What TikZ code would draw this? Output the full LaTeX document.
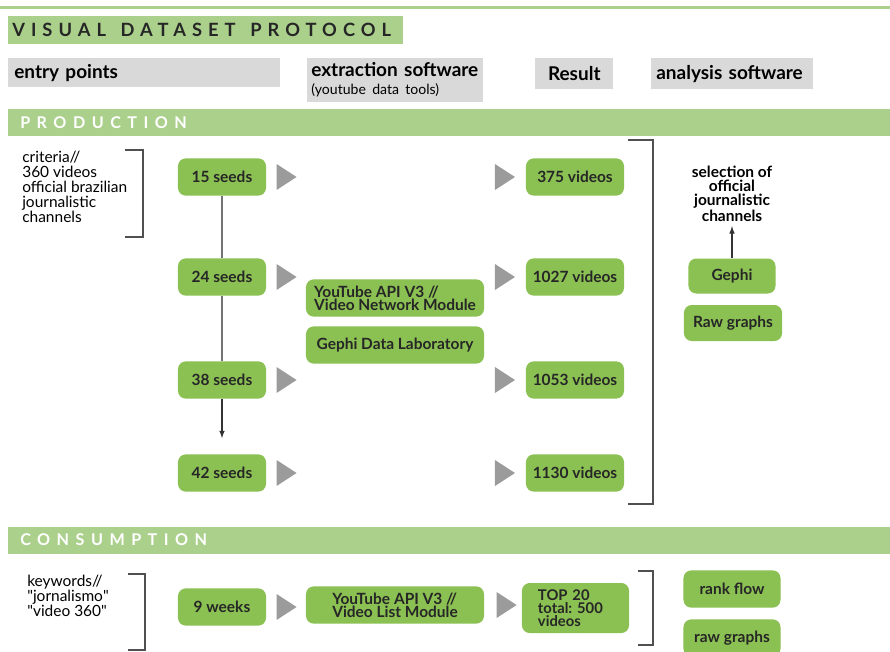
\documentclass[tikz,border=0pt]{standalone}
\usepackage{fontspec}
\setmainfont{Lato}
\usetikzlibrary{positioning,shapes.geometric}
\definecolor{bargreen}{RGB}{170,208,140}
\definecolor{nodegreen}{RGB}{139,192,83}
\definecolor{headgray}{RGB}{217,217,217}
\definecolor{trigray}{RGB}{155,155,155}
\definecolor{linegray}{RGB}{80,80,80}
\frenchspacing
\begin{document}
\begin{tikzpicture}[x=0.025cm,y=-0.025cm]
\tikzstyle{main}=[rectangle, rounded corners=5.5pt, fill=nodegreen, text=black!85, minimum width=2.2cm, minimum height=0.93cm, inner sep=2pt, font=\fontsize{11}{9.5}\selectfont\bfseries]
\tikzstyle{result}=[main, minimum width=2.45cm]
\tikzstyle{tool}=[main, minimum width=4.45cm, align=left]
\tikzstyle{tri}=[isosceles triangle, isosceles triangle stretches, fill=trigray, minimum height=0.5cm, minimum width=0.65cm, inner sep=0pt]
\tikzstyle{head}=[rectangle, fill=headgray, anchor=north west, inner xsep=0.15cm, inner ysep=3pt, align=left, font=\fontsize{13.5}{14}\selectfont\bfseries]
\tikzstyle{bar}=[rectangle, fill=bargreen, anchor=west, inner xsep=0.3cm, inner ysep=0pt, minimum height=0.675cm, align=left, font=\fontsize{11.5}{13}\selectfont\bfseries\addfontfeature{LetterSpace=40}]
\tikzstyle{note}=[anchor=north west, align=left, inner sep=0pt, font=\fontsize{11}{10.7}\selectfont]
\tikzstyle{connect}=[-latex, draw=black!80, thick]
\tikzstyle{bracket}=[draw=linegray, line width=1pt]
\useasboundingbox (0,0) rectangle (890,652);
\fill[bargreen] (0,6) rectangle (890,9);

  % headers
  \node[bar, text width=9.675cm, inner xsep=0.1cm, minimum height=0.7cm, text=black!85, font=\fontsize{13}{14}\selectfont\bfseries\addfontfeature{LetterSpace=33}] (title) at (8,30) {VISUAL\hspace{0.8em}DATASET\hspace{0.8em}PROTOCOL};
  \node[head, text width=6.5cm, minimum height=0.725cm] (hentry) at (8,58) {entry points};
  \node[head, text width=4.2cm, inner xsep=0.1cm, minimum height=1.075cm] (hextract) at (307,58) {extraction software\\[-1pt]{\fontsize{10}{10}\selectfont\mdseries (youtube data tools)}};
  \node[head, text width=1.65cm, align=center, minimum height=0.775cm] (hresult) at (535,58) {Result};
  \node[head, text width=3.8cm, inner xsep=0.125cm, minimum height=0.775cm] (hanalysis) at (651,58) {analysis software};

  % production
  \node[bar, text width=21.45cm, text=white] (prod) at (8,122.5) {PRODUCTION};
  \node[note] (criteria) at (22,151) {criteria//\\360 videos\\official brazilian\\journalistic\\channels};
  \draw[bracket] (125,150) -- (143,150) -- (143,237) -- (125,237);

  \node[main] (s15) at (222,177) {15 seeds};
  \node[main] (s24) at (222,277) {24 seeds};
  \node[main] (s38) at (222,380) {38 seeds};
  \node[main] (s42) at (222,473) {42 seeds};
  \foreach \n in {15,24,38,42} {
    \node[tri, right=0.25cm of s\n] (ta\n) {};
  }

  \node[tool] (ytnet) at (395,298) {YouTube API V3 //\\Video Network Module};
  \node[tool] (gephidl) at (395,345) {Gephi Data Laboratory};

  \node[result] (r15) at (575,177) {375 videos};
  \node[result] (r24) at (575,277) {1027 videos};
  \node[result] (r38) at (575,380) {1053 videos};
  \node[result] (r42) at (575,473) {1130 videos};
  \foreach \n in {15,24,38,42} {
    \node[tri, left=0.25cm of r\n] (tb\n) {};
  }
  \draw[bracket] (628,140) -- (653,140) -- (653,504) -- (628,504);

  \node[align=center, inner sep=0pt, font=\fontsize{11}{10}\selectfont\bfseries] (selection) at (732,194) {selection of\\official\\journalistic\\channels};
  \node[main, minimum width=2.175cm, minimum height=0.875cm] (gephi) at (732,276) {Gephi};
  \node[main, minimum width=2.45cm, minimum height=0.9cm] (rawp) at (733,323) {Raw graphs};

  \draw[black!55, thick] (s15) -- (s24) -- (s38);
  \path (s38) edge [connect, shorten >=0.4cm] (s42)
        (gephi) edge [connect, shorten >=3pt] (selection);

  % consumption
  \node[bar, text width=21.45cm, text=white] (cons) at (8,540) {CONSUMPTION};
  \node[note] (keywords) at (27,575) {keywords//\\\textquotedbl jornalismo\textquotedbl\\\textquotedbl video 360\textquotedbl};
  \draw[bracket] (128,574) -- (145,574) -- (145,650) -- (128,650);

  \node[main] (weeks) at (222,607) {9 weeks};
  \node[tri, right=0.25cm of weeks] (tw) {};
  \node[tool] (ytlist) at (395,605) {YouTube API V3 //\\Video List Module};
  \node[tri, right=0.3cm of ytlist] (tl) {};
  \node[main, minimum width=2.675cm, minimum height=1.25cm, text width=1.875cm, inner xsep=0.4cm, align=left, font=\fontsize{10.5}{9.2}\selectfont\bfseries] (top) at (575.5,608) {TOP 20\\total: 500\\videos};
  \draw[bracket] (638,571) -- (653,571) -- (653,645) -- (638,645);

  \node[main, minimum width=2.425cm] (rank) at (732,589) {rank flow};
  \node[main, minimum width=2.425cm] (rawc) at (732,638) {raw graphs};
\end{tikzpicture}
\end{document}
